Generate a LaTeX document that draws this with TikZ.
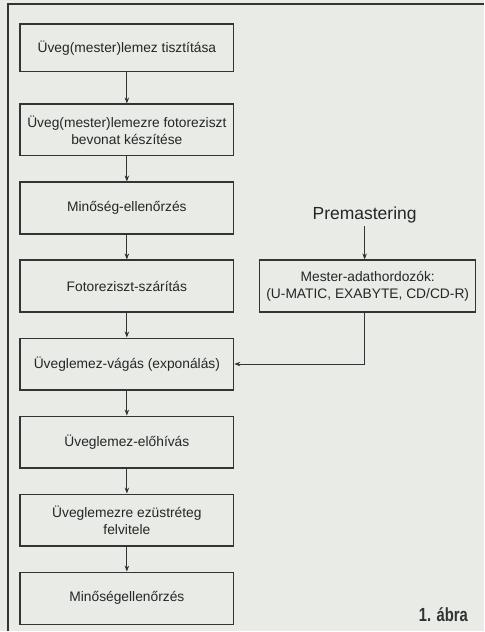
\documentclass[tikz,border=0pt]{standalone}
\usepackage{fontspec}
\setmainfont{Liberation Sans}
\usetikzlibrary{positioning,arrows.meta}
\definecolor{paper}{RGB}{233,235,231}
\definecolor{ink}{RGB}{52,52,52}

\begin{document}
\begin{tikzpicture}[x=1pt,y=1pt,font=\fontsize{13.8}{17}\selectfont,node distance=25pt]
  \tikzset{
    stage/.style={draw=ink,line width=1.1pt,minimum width=214pt,minimum height=52pt,
      align=center,inner sep=2pt,text=black!85},
    flow/.style={draw=ink,line width=0.8pt,->},
    >={Stealth[length=6pt,width=4.5pt]}
  }
  \fill[paper] (0,0) rectangle (484,-632);
  \draw[ink,line width=1.3pt] (8,-632) -- (8,-4) -- (484,-4);
  \node[stage,minimum height=48pt] at (127,-48) (clean) {Üveg(mester)lemez tisztítása};
  \node[stage,below=31pt of clean] (coat) {Üveg(mester)lemezre fotoreziszt\\bevonat készítése};
  \node[stage,below=of coat] (check) {Minőség-ellenőrzés};
  \node[stage,below=of check] (dry) {Fotoreziszt-szárítás};
  \node[stage,below=of dry] (cut) {Üveglemez-vágás (exponálás)};
  \node[stage,below=of cut] (develop) {Üveglemez-előhívás};
  \node[stage,below=of develop] (silver) {Üveglemezre ezüstréteg\\felvitele};
  \node[stage,below=of silver] (final) {Minőségellenőrzés};
  \node[stage,right=of dry,minimum width=216pt] (media)
     {Mester-adathordozók:\\(U-MATIC, EXABYTE, CD/CD-R)};
  \node[font=\fontsize{17.5}{20}\selectfont,text=black!85] at (365,-215) (premaster) {Premastering};
  \node[anchor=east,font=\fontsize{19}{22}\selectfont\bfseries,text=black!80] at (472,-615) (caption)
     {\scalebox{0.78}[1]{1. ábra}};
  \draw[flow] (clean) -- (coat);
  \draw[flow] (coat) -- (check);
  \draw[flow] (check) -- (dry);
  \draw[flow] (dry) -- (cut);
  \draw[flow] (cut) -- (develop);
  \draw[flow] (develop) -- (silver);
  \draw[flow] (silver) -- (final);
  \draw[flow] (premaster.south) -- (premaster.south |- media.north);
  \draw[flow] (premaster.south |- media.south) |- (cut.east);
\end{tikzpicture}
\end{document}
